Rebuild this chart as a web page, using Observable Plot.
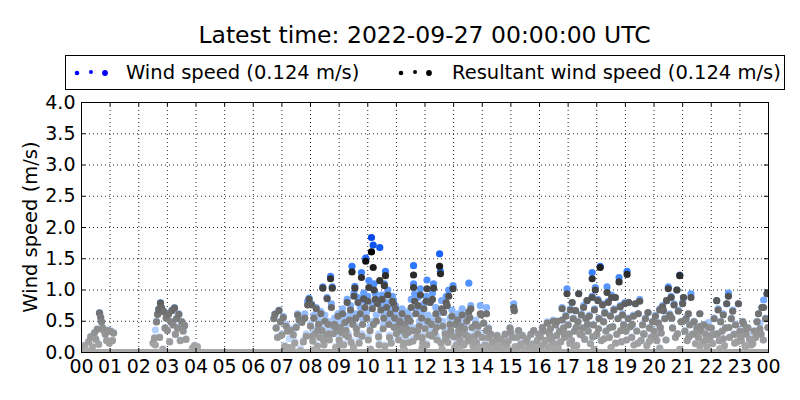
<!DOCTYPE html>
<html>
<head>
<meta charset="utf-8">
<script src="https://cdn.jsdelivr.net/npm/d3@7"></script>
<script src="https://cdn.jsdelivr.net/npm/@observablehq/plot@0.6"></script>
<style>
  html, body { margin: 0; padding: 0; background: #fff; }
  body { width: 800px; height: 400px; position: relative; overflow: hidden; font-family: "DejaVu Sans", sans-serif; color: #000; }
  #title { position: absolute; left: 81px; width: 687px; top: 20px; text-align: center; font-size: 23.5px; line-height: 30px; white-space: nowrap; }
  #legend { position: absolute; left: 65px; top: 55px; width: 720px; height: 35px; border: 1px solid #000; box-sizing: border-box; font-size: 19.5px; }
  .item { position: absolute; top: 0; height: 33px; line-height: 33px; white-space: nowrap; }
  .item svg { position: absolute; top: 0; left: 0; }
  .item span { position: absolute; top: 0; }
  #ylabel { position: absolute; left: 30px; top: 227px; transform: translate(-50%, -50%) rotate(-90deg); font-size: 19.5px; white-space: nowrap; }
  #chart { position: absolute; left: 0; top: 0; }
</style>
</head>
<body>
<div id="chart"></div>
<div id="title"></div>
<div id="legend"></div>
<div id="ylabel"></div>
<script>
const titleText = "Latest time: 2022-09-27 00:00:00 UTC";
const seriesNames = ["Wind speed (0.124 m/s)", "Resultant wind speed (0.124 m/s)"];
const yLabel = "Wind speed (m/s)";
const hourTicks = [0,1,2,3,4,5,6,7,8,9,10,11,12,13,14,15,16,17,18,19,20,21,22,23,24];
const speedTicks = [0,0.5,1.0,1.5,2.0,2.5,3.0,3.5,4.0];
const calmFrom = [0];
const calmTo = [24];

// hours since 00 UTC
const times = [
0.03,0.1,0.17,0.25,0.32,0.38,0.45,0.5,0.55,0.6,
0.63,0.67,0.7,0.74,0.78,0.83,0.88,0.92,0.97,1.02,
1.08,1.12,2.5,2.55,2.58,2.62,2.66,2.7,2.73,2.76,
2.8,2.84,2.88,2.92,2.96,3.0,3.04,3.08,3.12,3.16,
3.2,3.25,3.28,3.32,3.36,3.4,3.45,3.5,3.55,3.6,
3.65,3.88,3.95,4.05,6.72,6.76,6.8,6.85,6.9,6.95,
7.0,7.05,7.1,7.15,7.2,7.26,7.3,7.35,7.4,7.45,
7.5,7.55,7.6,7.65,7.7,7.75,7.8,7.85,7.9,7.95,
8.0,8.04,8.08,8.12,8.16,8.2,8.24,8.28,8.32,8.36,
8.4,8.43,8.47,8.5,8.55,8.58,8.62,8.66,8.7,8.73,
8.76,8.8,8.84,8.88,8.92,8.96,9.0,9.04,9.08,9.12,
9.16,9.2,9.24,9.28,9.32,9.36,9.4,9.45,9.48,9.52,
9.55,9.58,9.62,9.66,9.7,9.74,9.78,9.82,9.86,9.9,
9.93,9.96,10.0,10.04,10.08,10.13,10.16,10.19,10.22,10.26,
10.3,10.34,10.38,10.42,10.46,10.5,10.54,10.58,10.62,10.66,
10.7,10.74,10.78,10.82,10.86,10.9,10.94,10.97,11.0,11.04,
11.08,11.12,11.16,11.2,11.24,11.28,11.32,11.36,11.4,11.44,
11.48,11.52,11.56,11.6,11.6,11.64,11.68,11.72,11.76,11.8,
11.84,11.88,11.92,11.96,12.0,12.04,12.07,12.1,12.14,12.18,
12.22,12.26,12.3,12.34,12.38,12.42,12.46,12.51,12.54,12.58,
12.62,12.65,12.7,12.74,12.77,12.8,12.83,12.87,12.9,12.94,
12.98,13.02,13.06,13.1,13.14,13.18,13.22,13.26,13.3,13.34,
13.38,13.42,13.46,13.5,13.53,13.56,13.6,13.64,13.68,13.72,
13.76,13.8,13.84,13.88,13.93,13.96,14.0,14.05,14.1,14.15,
14.15,14.2,14.25,14.3,14.35,14.4,14.46,14.52,14.58,14.64,
14.7,14.75,14.8,14.86,14.92,14.97,15.0,15.05,15.1,15.15,
15.12,15.2,15.27,15.33,15.4,15.46,15.52,15.57,15.63,15.7,
15.75,15.8,15.86,15.92,15.97,16.03,16.08,16.14,16.2,16.27,
16.3,16.35,16.38,16.43,16.48,16.52,16.56,16.6,16.65,16.7,
16.74,16.79,16.79,16.84,16.88,16.92,16.96,17.0,17.04,17.08,
17.12,17.14,17.18,17.22,17.26,17.3,17.34,17.37,17.42,17.46,
17.5,17.54,17.58,17.62,17.66,17.7,17.74,17.78,17.84,17.84,
17.88,17.92,17.95,18.0,18.04,18.08,18.12,18.16,18.2,18.24,
18.28,18.32,18.36,18.4,18.44,18.48,18.52,18.56,18.6,18.65,
18.7,18.74,18.78,18.82,18.86,18.9,18.94,18.98,19.02,19.06,
19.1,19.12,19.17,19.22,19.28,19.35,19.4,19.45,19.5,19.55,
19.6,19.65,19.7,19.75,19.79,19.84,19.9,19.95,20.0,20.05,
20.1,20.15,20.2,20.25,20.3,20.33,20.38,20.44,20.5,20.55,
20.6,20.65,20.7,20.75,20.8,20.85,20.9,20.95,21.0,21.03,
21.08,21.12,21.16,21.2,21.25,21.29,21.34,21.4,21.45,21.5,
21.55,21.6,21.65,21.7,21.75,21.8,21.85,21.9,21.95,22.0,
22.05,22.1,22.15,22.19,22.24,22.28,22.33,22.38,22.42,22.46,
22.5,22.54,22.6,22.64,22.7,22.75,22.8,22.85,22.9,22.95,
23.0,23.05,23.1,23.13,23.18,23.22,23.28,23.34,23.4,23.45,
23.5,23.55,23.6,23.65,23.7,23.74,23.77,23.83,23.9,23.95,
8.1,8.9,9.5,10.1,10.6,11.3,11.9,12.6,13.2,13.9,
16.5,17.2,17.9,18.5,19.3,20.2,20.9,21.6,22.3,23.2,
8.06,8.26,8.45,8.64,8.82,9.02,9.22,9.42,9.6,9.8,
10.02,10.2,10.4,10.56,10.76,10.92,11.1,11.26,11.42,11.58,
11.74,11.9,12.06,12.24,12.4,12.56,12.72,12.88,13.04,13.2,
13.36,13.52,13.7,13.86,14.02,14.22,14.5,14.9,15.35,15.9,
16.1,16.4,16.62,16.86,17.06,17.28,17.48,17.68,17.86,18.06,
18.26,18.46,18.66,18.84,19.04,19.24,19.44,19.64,19.84,20.04,
20.22,20.42,20.62,20.82,21.02,21.22,21.42,21.62,21.82,22.02,
22.22,22.42,22.62,22.82,23.02,23.22,23.42,23.62,23.82,23.98
];

// wind speed (m/s)
const windSpeed = [
0.06,0.12,0.04,0.18,0.26,0.1,0.32,0.22,0.38,0.14,
0.64,0.57,0.5,0.4,0.36,0.3,0.2,0.36,0.16,0.35,
0.2,0.32,0.16,0.24,0.36,0.5,0.62,0.7,0.25,0.8,
0.72,0.06,0.66,0.4,0.56,0.36,0.62,0.18,0.5,0.68,
0.45,0.72,0.3,0.55,0.4,0.62,0.2,0.5,0.35,0.44,
0.22,0.08,0.12,0.1,0.55,0.62,0.4,0.25,0.68,0.5,
0.3,0.58,0.12,0.45,0.36,0.22,0.38,0.08,0.3,0.18,
0.42,0.62,0.55,0.07,0.5,0.2,0.62,0.3,0.82,0.87,
0.45,0.78,0.2,0.6,0.35,0.72,0.12,0.52,0.28,0.66,
0.4,1.05,0.15,0.6,0.32,0.88,0.5,0.22,1.22,0.78,
1.05,0.35,0.55,0.1,0.42,0.62,0.25,0.5,0.38,0.7,
0.15,0.55,0.42,0.85,0.3,0.6,0.75,1.38,0.5,0.95,
1.06,0.62,0.38,0.88,0.2,0.72,1.28,0.55,0.95,0.82,
1.51,0.65,0.9,1.15,0.42,1.84,0.78,1.72,1.1,0.95,
0.6,0.85,0.3,1.68,0.75,0.92,0.45,1.1,1.3,0.8,
1.0,0.55,0.7,0.2,0.9,0.83,0.62,0.75,0.35,0.5,
0.25,0.6,0.4,0.7,0.12,0.55,0.32,0.45,0.65,0.2,
0.58,0.85,0.4,1.39,1.1,0.94,0.7,0.3,0.88,0.5,
1.02,0.65,0.2,0.78,0.45,0.9,1.16,0.6,0.35,0.8,
0.55,0.95,1.1,0.4,0.72,0.25,0.62,1.58,1.3,0.83,
0.5,0.64,0.35,0.9,0.75,0.2,1.0,0.55,0.42,0.68,
1.07,0.3,0.55,0.15,0.62,0.4,0.25,0.5,0.7,0.18,
0.45,0.32,0.6,0.22,1.11,0.56,0.75,0.4,0.12,0.3,
0.52,0.2,0.35,0.1,0.75,0.62,0.28,0.47,0.15,0.72,
0.35,0.25,0.1,0.3,0.18,0.06,0.19,0.28,0.1,0.22,
0.08,0.17,0.3,0.14,0.05,0.4,0.33,0.25,0.78,0.1,
0.67,0.25,0.35,0.12,0.28,0.06,0.18,0.22,0.1,0.3,
0.14,0.35,0.08,0.2,0.3,0.25,0.12,0.35,0.2,0.49,
0.1,0.3,0.38,0.2,0.52,0.15,0.44,0.28,0.08,0.35,
0.18,0.52,0.72,0.4,0.25,0.6,1.02,0.45,0.3,0.7,
0.2,0.8,0.55,0.35,0.67,0.12,0.5,0.94,0.3,0.62,
0.4,0.75,0.22,0.55,0.83,0.35,0.6,0.15,1.28,0.9,
0.45,0.7,1.04,0.3,0.85,0.55,1.38,0.2,0.78,0.5,
0.65,0.35,1.05,0.82,0.25,0.6,0.92,0.42,0.7,0.88,
0.3,0.55,1.2,0.75,0.18,0.62,0.45,0.8,0.35,1.3,
0.55,0.8,0.42,0.25,0.6,0.78,0.35,0.62,0.85,0.2,
0.45,0.3,0.55,0.12,0.64,0.4,0.25,0.5,0.35,0.6,
0.2,0.48,0.7,0.32,0.75,0.67,0.55,0.83,1.05,0.62,
0.9,0.4,0.78,0.25,1.0,0.68,1.24,0.5,0.8,0.88,
0.35,0.55,0.2,0.62,0.45,0.94,0.3,0.5,0.15,0.4,
0.25,0.62,0.35,0.18,0.45,0.3,0.1,0.48,0.22,0.4,
0.15,0.55,0.3,0.83,0.7,0.2,0.5,0.35,0.62,0.12,
0.4,0.78,0.95,0.25,0.55,0.68,0.3,0.45,0.18,0.78,
0.35,0.2,0.5,0.46,0.12,0.3,0.4,0.22,0.27,0.15,
0.35,0.25,0.5,0.62,0.47,0.3,0.72,0.84,0.55,0.94,
0.05,0.08,0.1,0.06,0.12,0.04,0.09,0.07,0.05,0.1,
0.06,0.1,0.05,0.08,0.12,0.07,0.05,0.1,0.06,0.08,
0.3,0.4,0.22,0.35,0.48,0.15,0.32,0.2,0.42,0.3,
0.25,0.5,0.15,0.62,0.28,0.45,0.55,0.18,0.38,0.22,
0.4,0.28,0.15,0.3,0.45,0.18,0.25,0.32,0.1,0.35,
0.15,0.28,0.2,0.45,0.1,0.4,0.12,0.2,0.16,0.1,
0.4,0.25,0.5,0.3,0.15,0.4,0.28,0.45,0.25,0.38,
0.22,0.4,0.15,0.35,0.2,0.45,0.15,0.3,0.18,0.25,
0.4,0.2,0.55,0.3,0.5,0.25,0.3,0.42,0.2,0.28,
0.3,0.22,0.4,0.15,0.25,0.38,0.18,0.3,0.2,0.4
];

// resultant wind speed (m/s)
const resultantSpeed = [
0.05,0.11,0.03,0.17,0.25,0.09,0.31,0.21,0.37,0.13,
0.63,0.56,0.49,0.39,0.35,0.29,0.19,0.35,0.15,0.34,
0.19,0.31,0.15,0.23,0.12,0.49,0.61,0.69,0.24,0.79,
0.71,0.05,0.65,0.39,0.55,0.35,0.61,0.17,0.49,0.67,
0.44,0.71,0.29,0.54,0.39,0.61,0.19,0.49,0.34,0.43,
0.21,0.07,0.11,0.09,0.54,0.61,0.39,0.24,0.67,0.49,
0.28,0.56,0.1,0.42,0.34,0.08,0.35,0.06,0.28,0.15,
0.4,0.6,0.52,0.03,0.48,0.17,0.55,0.26,0.76,0.85,
0.42,0.76,0.18,0.55,0.3,0.7,0.1,0.45,0.24,0.62,
0.35,1.03,0.12,0.5,0.28,0.86,0.45,0.2,1.18,0.72,
1.03,0.3,0.45,0.08,0.35,0.58,0.2,0.4,0.32,0.62,
0.12,0.48,0.35,0.8,0.25,0.52,0.68,1.29,0.45,0.9,
1.03,0.55,0.3,0.8,0.15,0.62,1.2,0.45,0.86,0.72,
1.46,0.55,0.82,1.04,0.35,1.61,0.7,1.36,1.0,0.85,
0.5,0.78,0.25,1.15,0.68,0.85,0.38,1.07,1.23,0.72,
0.92,0.45,0.62,0.15,0.82,0.78,0.55,0.7,0.3,0.42,
0.2,0.5,0.35,0.62,0.1,0.45,0.28,0.38,0.55,0.16,
0.5,0.72,0.35,1.24,1.04,0.82,0.62,0.25,0.75,0.42,
0.92,0.55,0.15,0.7,0.38,0.82,1.02,0.5,0.28,0.8,
0.45,0.85,1.03,0.32,0.62,0.2,0.52,1.38,1.26,0.7,
0.42,0.64,0.3,0.8,0.75,0.16,0.9,0.45,0.35,0.58,
1.02,0.25,0.45,0.12,0.52,0.35,0.2,0.42,0.6,0.14,
0.38,0.28,0.5,0.18,0.65,0.56,0.7,0.4,0.1,0.25,
0.45,0.16,0.3,0.08,0.62,0.6,0.24,0.47,0.12,0.62,
0.35,0.24,0.09,0.29,0.17,0.05,0.19,0.27,0.09,0.21,
0.07,0.17,0.29,0.13,0.04,0.39,0.32,0.24,0.72,0.09,
0.67,0.24,0.35,0.11,0.27,0.05,0.17,0.22,0.09,0.29,
0.13,0.35,0.07,0.19,0.29,0.25,0.11,0.34,0.19,0.47,
0.09,0.29,0.38,0.19,0.5,0.14,0.44,0.27,0.07,0.34,
0.17,0.52,0.7,0.39,0.24,0.58,0.94,0.44,0.29,0.68,
0.19,0.8,0.54,0.34,0.67,0.11,0.49,0.94,0.29,0.6,
0.39,0.72,0.21,0.54,0.83,0.34,0.58,0.14,1.18,0.88,
0.44,0.68,1.0,0.29,0.83,0.54,1.36,0.19,0.76,0.49,
0.63,0.34,0.96,0.8,0.24,0.58,0.88,0.41,0.68,0.88,
0.29,0.54,1.13,0.73,0.17,0.6,0.44,0.78,0.34,1.25,
0.54,0.8,0.41,0.24,0.58,0.78,0.34,0.62,0.82,0.19,
0.44,0.29,0.54,0.11,0.64,0.39,0.24,0.49,0.34,0.58,
0.19,0.47,0.68,0.31,0.73,0.67,0.54,0.83,1.02,0.6,
0.88,0.39,0.76,0.24,1.0,0.66,1.23,0.49,0.78,0.88,
0.34,0.54,0.19,0.62,0.44,0.88,0.29,0.49,0.14,0.39,
0.24,0.62,0.34,0.17,0.44,0.29,0.09,0.4,0.21,0.39,
0.14,0.54,0.29,0.83,0.68,0.19,0.49,0.34,0.6,0.11,
0.39,0.78,0.9,0.24,0.54,0.66,0.29,0.44,0.17,0.78,
0.34,0.19,0.49,0.46,0.11,0.29,0.39,0.21,0.12,0.14,
0.34,0.24,0.49,0.62,0.38,0.29,0.72,0.72,0.54,0.94,
0.04,0.06,0.08,0.05,0.1,0.03,0.07,0.05,0.04,0.08,
0.06,0.1,0.05,0.08,0.12,0.07,0.05,0.1,0.06,0.08,
0.26,0.36,0.2,0.3,0.42,0.12,0.28,0.16,0.38,0.26,
0.2,0.45,0.12,0.55,0.24,0.4,0.5,0.15,0.32,0.18,
0.35,0.24,0.12,0.26,0.4,0.15,0.22,0.28,0.08,0.3,
0.12,0.25,0.18,0.42,0.08,0.38,0.1,0.18,0.14,0.08,
0.4,0.25,0.5,0.3,0.15,0.4,0.28,0.45,0.25,0.38,
0.22,0.4,0.15,0.35,0.2,0.45,0.15,0.3,0.18,0.25,
0.4,0.2,0.55,0.3,0.5,0.25,0.3,0.42,0.2,0.28,
0.3,0.22,0.4,0.15,0.25,0.38,0.18,0.3,0.2,0.4
];

const n = Math.min(times.length, windSpeed.length, resultantSpeed.length);
const rows = d3.range(n).map(i => ({t: times[i], ws: windSpeed[i], rw: resultantSpeed[i]}));
const calm = calmFrom.map((a, i) => ({from: a, to: calmTo[i]}));

const blueColor = d3.scaleLinear().domain([0, 0.5, 1.0, 1.5, 1.9])
  .range(["#d8e7ff", "#a4c7ff", "#5c9aff", "#1f6bff", "#0040e0"]).clamp(true);
const grayColor = d3.scaleLinear().domain([0, 0.4, 0.7, 1.0, 1.3, 1.6])
  .range(["#acacac", "#8c8c8c", "#6a6a6a", "#454545", "#252525", "#000000"]).clamp(true);

const W = 800, H = 400, mL = 81, mR = 32, mT = 102, mB = 48;
const pw = W - mL - mR, ph = H - mT - mB;

const chart = Plot.plot({
  width: W, height: H,
  marginLeft: mL, marginRight: mR, marginTop: mT, marginBottom: mB,
  style: {fontFamily: "DejaVu Sans", fontSize: "19px", color: "#000", background: "transparent", overflow: "visible"},
  x: {domain: [0, 24]},
  y: {domain: [0, 4]},
  color: {type: "identity"},
  marks: [
    Plot.gridX(hourTicks, {stroke: "#000", strokeOpacity: 0.85, strokeDasharray: "1,3", strokeWidth: 1}),
    Plot.gridY(speedTicks, {stroke: "#000", strokeOpacity: 0.85, strokeDasharray: "1,3", strokeWidth: 1}),
    Plot.link(calm, {x1: "from", x2: "to", y1: () => 0, y2: () => 0, stroke: "#a9a9a9", strokeWidth: 7, clip: true}),
    Plot.dot(rows, {x: "t", y: "ws", r: 3.6, fill: d => blueColor(d.ws), stroke: null, clip: true}),
    Plot.dot(rows, {x: "t", y: "rw", r: 3.6, fill: d => grayColor(d.rw), stroke: null, clip: true}),
    Plot.frame({stroke: "#000", strokeWidth: 1}),
    Plot.tickY(speedTicks, {y: d => d, insetRight: pw - 4, stroke: "#000"}),
    Plot.tickY(speedTicks, {y: d => d, insetLeft: pw - 4, stroke: "#000"}),
    Plot.tickX(hourTicks, {x: d => d, insetTop: ph - 4, stroke: "#000"}),
    Plot.tickX(hourTicks, {x: d => d, insetBottom: ph - 4, stroke: "#000"}),
    Plot.axisX(hourTicks, {tickSize: 0, tickPadding: 7, tickFormat: d => String(d % 24).padStart(2, "0"), label: null, fontSize: 19}),
    Plot.axisY(speedTicks, {tickSize: 0, tickPadding: 6, tickFormat: d3.format(".1f"), label: null, fontSize: 19})
  ]
});
document.getElementById("chart").appendChild(chart);

document.getElementById("title").textContent = titleText;
document.getElementById("ylabel").textContent = yLabel;

function legendItem(left, color, text, textLeft) {
  const div = document.createElement("div");
  div.className = "item";
  div.style.left = left + "px";
  div.innerHTML = `<svg width="50" height="33"><circle cx="11" cy="17" r="2.3" fill="${color}"/><circle cx="25" cy="16" r="2.0" fill="${color}"/><circle cx="39" cy="17" r="2.9" fill="${color}"/></svg><span style="left:${textLeft}px"></span>`;
  div.querySelector("span").textContent = text;
  return div;
}
const legend = document.getElementById("legend");
legend.appendChild(legendItem(0, "#0000ff", seriesNames[0], 60));
legend.appendChild(legendItem(324, "#000000", seriesNames[1], 62));
</script>
</body>
</html>
